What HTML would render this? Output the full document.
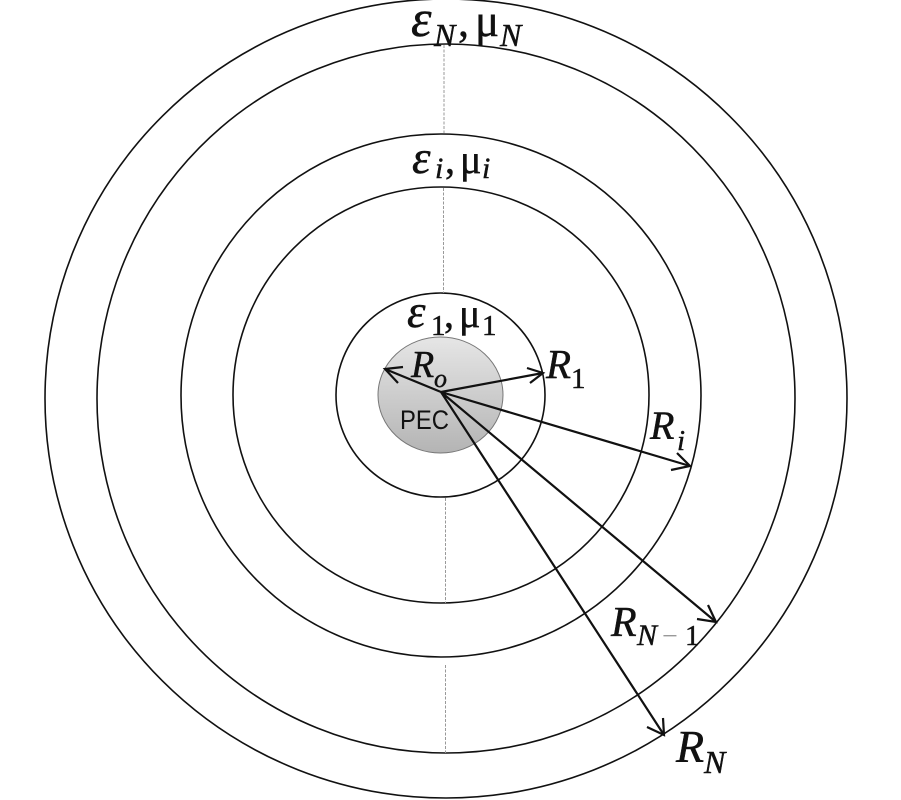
<!DOCTYPE html>
<html><head><meta charset="utf-8"><style>
html,body{margin:0;padding:0;background:#fff}
svg{display:block}
text{font-family:"Liberation Serif","DejaVu Serif",serif;fill:#111;stroke:#111;stroke-width:.45}
.i{font-style:italic}
</style></head><body>
<svg width="901" height="800" viewBox="0 0 901 800" xmlns="http://www.w3.org/2000/svg">
<defs><linearGradient id="g" x1="0" y1="0" x2="0" y2="1"><stop offset="0" stop-color="#e6e6e6"/><stop offset="1" stop-color="#b4b4b4"/></linearGradient></defs>
<g fill="none" stroke="#111" stroke-width="1.6">
<ellipse cx="446" cy="398.5" rx="401" ry="399.5"/>
<ellipse cx="446" cy="398.5" rx="349" ry="354.5"/>
<ellipse cx="441" cy="395.5" rx="260" ry="261.5"/>
<ellipse cx="441" cy="395" rx="208" ry="208"/>
<ellipse cx="440.5" cy="395" rx="104.5" ry="102"/>
</g>
<ellipse cx="440.5" cy="395" rx="62.5" ry="58" fill="url(#g)" stroke="#777" stroke-width="1"/>
<g stroke="#999" stroke-width="1" stroke-dasharray="3 1.5" fill="none">
<path d="M444 45V134M443.500 188V293M445.500 498V603M445.500 665V753"/>
</g>
<g fill="none" stroke="#111" stroke-width="2.2">
<path d="M441 392L385 369M441 392L543 373M441 392L690 466M441 392L716 622M441 392L664 735"/>
<path d="M403 367L385 369L398 383"/>
<path d="M527 368L543 373L530 383"/>
<path d="M677 453L690 466L671 470"/>
<path d="M708 605L716 622L697 619"/>
<path d="M663 718L664 735L647 727"/>
</g>
<text x="411" y="36" font-size="52" class="i">ε</text><text x="434" y="46" font-size="32" class="i">N</text><text x="458" y="36" font-size="44">,</text><text x="475" y="36" font-size="45">μ</text><text x="500" y="46" font-size="32" class="i">N</text>
<text x="412" y="173" font-size="47" class="i">ε</text><text x="435" y="178" font-size="30" class="i">i</text><text x="445" y="173" font-size="40">,</text><text x="460" y="173" font-size="40">μ</text><text x="482" y="178" font-size="30" class="i">i</text>
<text x="407" y="327" font-size="47" class="i">ε</text><text x="431" y="335" font-size="29">1</text><text x="444" y="327" font-size="40">,</text><text x="459" y="327" font-size="40">μ</text><text x="482" y="335" font-size="29">1</text>
<text x="411" y="377" font-size="38" class="i">R</text><text x="434" y="387" font-size="26" class="i">o</text>
<text x="546" y="378" font-size="41" class="i">R</text><text x="571" y="388" font-size="29">1</text>
<text x="650" y="439" font-size="40" class="i">R</text><text x="677" y="450" font-size="29" class="i">i</text>
<text x="611" y="636" font-size="42" class="i">R</text><text x="637" y="645" font-size="30" class="i">N</text><text x="662" y="645" font-size="28" style="fill:#999;stroke:none">−</text><text x="685" y="645" font-size="29">1</text>
<text x="676" y="762" font-size="46" class="i">R</text><text x="704" y="773" font-size="32" class="i">N</text>
<text x="400" y="429" font-size="27" style="font-family:'Liberation Sans',sans-serif;stroke:none" textLength="49" lengthAdjust="spacingAndGlyphs">PEC</text>
</svg>
</body></html>
